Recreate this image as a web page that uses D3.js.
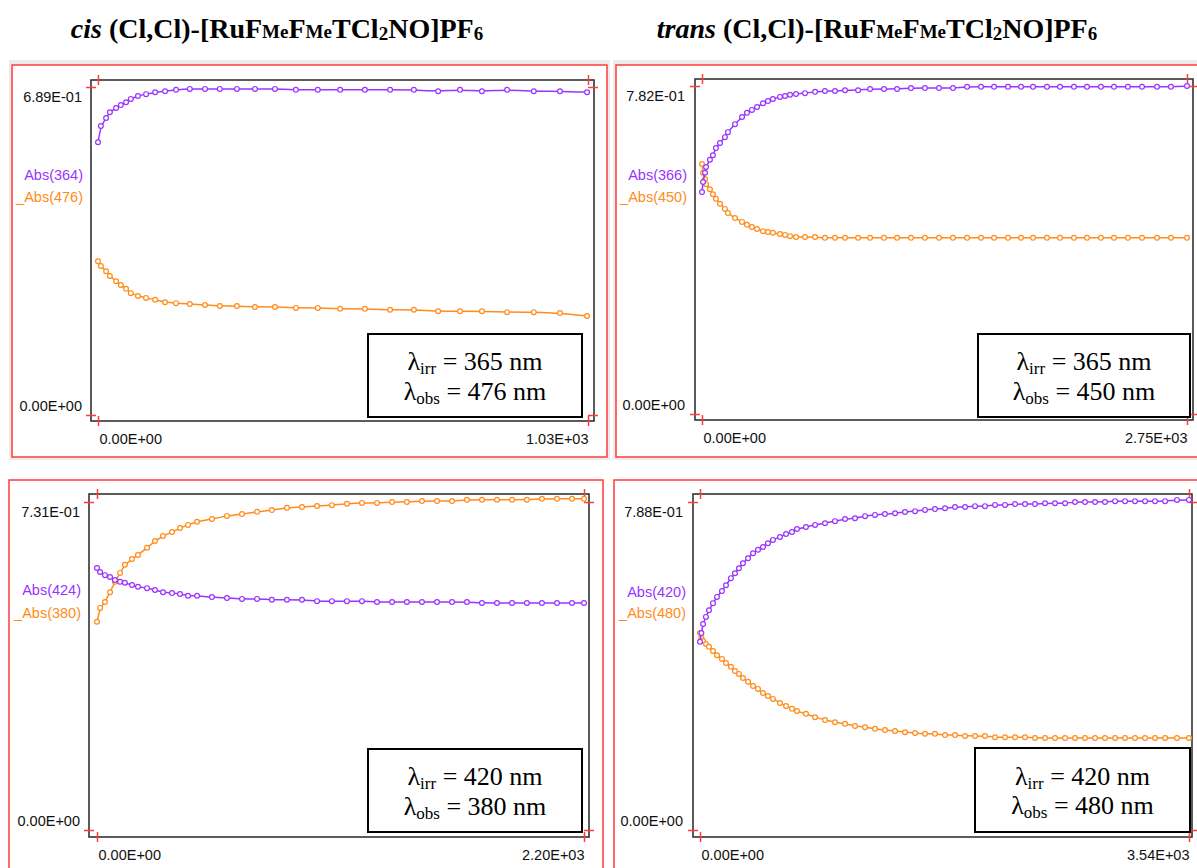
<!DOCTYPE html>
<html><head><meta charset="utf-8">
<script src="https://cdn.jsdelivr.net/npm/d3@7"></script>
<style>body{margin:0;background:#fff}</style>
</head><body><svg id="c" width="1197" height="868"></svg>
<script>
// ---------- DATA ----------
const titlePrefix = ["cis", "trans"];
// Panel 1: cis, irr 365, obs 476
const p1Time = [0,6,17,25,38,48,59,69,84,101,120,141,164,193,225,256,292,330,372,416,462,509,561,614,664,715,761,807,860,916,971,1028];
const p1Abs364 = [0.573,0.607,0.624,0.636,0.645,0.651,0.657,0.664,0.670,0.674,0.678,0.680,0.683,0.685,0.685,0.685,0.685,0.685,0.685,0.683,0.683,0.683,0.683,0.683,0.683,0.680,0.683,0.680,0.683,0.680,0.680,0.678];
const p1Abs476 = [0.323,0.313,0.302,0.292,0.281,0.273,0.265,0.256,0.250,0.246,0.242,0.237,0.235,0.233,0.231,0.229,0.229,0.227,0.227,0.225,0.225,0.223,0.223,0.221,0.221,0.218,0.218,0.218,0.216,0.216,0.214,0.208];
const p1XTicks = ["0.00E+00","1.03E+03"], p1YTicks = ["0.00E+00","6.89E-01"];
const p1Max = [1030, 0.689];
// Panel 2: trans, irr 365, obs 450
const p2Time = [0,6,17,23,45,62,79,102,130,147,187,227,255,283,312,346,374,402,442,471,499,533,584,641,697,754,811,885,953,1032,1106,1185,1264,1344,1423,1503,1582,1656,1735,1809,1877,1956,2030,2109,2183,2262,2336,2415,2495,2580,2659,2750];
const p2Abs366 = [0.529,0.553,0.575,0.589,0.606,0.617,0.634,0.646,0.660,0.672,0.691,0.708,0.718,0.725,0.732,0.741,0.746,0.751,0.756,0.758,0.761,0.763,0.765,0.768,0.770,0.770,0.772,0.772,0.775,0.775,0.775,0.777,0.777,0.777,0.777,0.780,0.780,0.780,0.780,0.780,0.780,0.780,0.780,0.780,0.780,0.780,0.780,0.780,0.780,0.780,0.780,0.782];
const p2Abs450 = [0.596,0.575,0.560,0.548,0.536,0.524,0.513,0.501,0.489,0.479,0.467,0.458,0.451,0.446,0.441,0.436,0.434,0.432,0.429,0.427,0.424,0.422,0.422,0.422,0.420,0.420,0.420,0.420,0.420,0.420,0.420,0.420,0.420,0.420,0.420,0.420,0.420,0.420,0.420,0.420,0.420,0.420,0.420,0.420,0.420,0.420,0.420,0.420,0.420,0.420,0.420,0.420];
const p2XTicks = ["0.00E+00","2.75E+03"], p2YTicks = ["0.00E+00","7.82E-01"];
const p2Max = [2750, 0.782];
// Panel 3: cis, irr 420, obs 380
const p3Time = [0,14,36,59,81,104,126,158,185,226,262,298,339,375,411,452,519,587,655,723,790,858,926,994,1061,1129,1197,1265,1333,1400,1468,1536,1604,1671,1739,1807,1875,1942,2010,2078,2146,2200];
const p3Abs424 = [0.584,0.575,0.568,0.564,0.557,0.553,0.551,0.546,0.542,0.539,0.535,0.530,0.528,0.526,0.522,0.522,0.519,0.517,0.515,0.515,0.513,0.513,0.513,0.510,0.510,0.510,0.510,0.508,0.508,0.508,0.508,0.508,0.508,0.508,0.506,0.506,0.506,0.506,0.506,0.506,0.506,0.506];
const p3Abs380 = [0.464,0.495,0.508,0.530,0.553,0.573,0.591,0.604,0.613,0.629,0.644,0.655,0.664,0.673,0.680,0.687,0.693,0.700,0.704,0.709,0.713,0.718,0.720,0.722,0.724,0.727,0.729,0.729,0.731,0.731,0.733,0.733,0.733,0.736,0.736,0.736,0.736,0.736,0.738,0.738,0.738,0.738];
const p3XTicks = ["0.00E+00","2.20E+03"], p3YTicks = ["0.00E+00","7.31E-01"];
const p3Max = [2200, 0.731];
// Panel 4: trans, irr 420, obs 480
const p4Time = [0,10,22,43,65,94,123,159,188,224,253,282,311,348,384,420,456,492,528,579,623,666,702,767,833,905,977,1050,1122,1195,1267,1339,1412,1484,1557,1629,1701,1774,1846,1919,1991,2063,2136,2208,2281,2353,2425,2498,2570,2643,2715,2787,2860,2932,3005,3077,3149,3222,3294,3367,3453,3540];
const p4Abs420 = [0.452,0.473,0.495,0.512,0.528,0.545,0.560,0.574,0.588,0.605,0.617,0.629,0.641,0.653,0.665,0.673,0.680,0.689,0.697,0.704,0.711,0.716,0.723,0.728,0.733,0.737,0.742,0.747,0.749,0.754,0.757,0.759,0.761,0.764,0.766,0.769,0.771,0.773,0.776,0.776,0.778,0.778,0.781,0.781,0.783,0.783,0.783,0.785,0.785,0.785,0.788,0.788,0.788,0.788,0.790,0.790,0.790,0.790,0.790,0.790,0.793,0.793];
const p4Abs480 = [0.473,0.461,0.454,0.447,0.440,0.430,0.420,0.411,0.401,0.392,0.382,0.375,0.365,0.356,0.346,0.339,0.329,0.322,0.315,0.305,0.298,0.291,0.286,0.279,0.271,0.264,0.259,0.255,0.250,0.247,0.243,0.240,0.238,0.235,0.233,0.231,0.231,0.228,0.228,0.226,0.226,0.226,0.223,0.223,0.223,0.223,0.221,0.221,0.221,0.221,0.221,0.221,0.221,0.221,0.221,0.221,0.221,0.221,0.221,0.221,0.221,0.221];
const p4XTicks = ["0.00E+00","3.54E+03"], p4YTicks = ["0.00E+00","7.88E-01"];
const p4Max = [3540, 0.788];

const PURPLE = "#9933ff", ORANGE = "#ff8c1a", RED = "#ff3b3b";

// ---------- LAYOUT ----------
const panels = [
  {frame:[12,65,595,392], box:[91,80,503,341], xr:[98,588], yr:[415,87], max:p1Max,
   t:p1Time, a:p1Abs364, b:p1Abs476, xt:p1XTicks, yt:p1YTicks, la:"Abs(364)", lb:"_Abs(476)",
   legX:83, legY:[175,197], yLabX:82, note:[368,334,214,83], irr:"365", obs:"476", band:true},
  {frame:[616,65,600,392], box:[695,79,498,341], xr:[702,1187], yr:[414,86], max:p2Max,
   t:p2Time, a:p2Abs366, b:p2Abs450, xt:p2XTicks, yt:p2YTicks, la:"Abs(366)", lb:"_Abs(450)",
   legX:687, legY:[175,197], yLabX:685, note:[978,334,212,83], irr:"365", obs:"450", band:true},
  {frame:[9,480,594,400], box:[89,494,500,343], xr:[97,584], yr:[830,502], max:p3Max,
   t:p3Time, a:p3Abs424, b:p3Abs380, xt:p3XTicks, yt:p3YTicks, la:"Abs(424)", lb:"_Abs(380)",
   legX:81, legY:[590,613], yLabX:80, note:[368,749,214,83], irr:"420", obs:"380", band:false},
  {frame:[614,480,600,400], box:[693,494,499,343], xr:[700,1189], yr:[830,502], max:p4Max,
   t:p4Time, a:p4Abs420, b:p4Abs480, xt:p4XTicks, yt:p4YTicks, la:"Abs(420)", lb:"_Abs(480)",
   legX:686, legY:[592,613], yLabX:683, note:[975,748,215,84], irr:"420", obs:"480", band:false}
];

const svg = d3.select("#c");
svg.append("rect").attr("width",1197).attr("height",868).attr("fill","#fff");

// titles
function title(cx, pre){
  const t = svg.append("text").attr("x",cx).attr("y",38).attr("text-anchor","middle")
    .attr("font-family","'Liberation Serif','Times New Roman',serif").attr("font-weight","bold").attr("font-size",28);
  t.append("tspan").attr("font-style","italic").text(pre);
  t.append("tspan").text(" (Cl,Cl)-[RuF");
  t.append("tspan").attr("font-size",19).text("Me");
  t.append("tspan").text("F");
  t.append("tspan").attr("font-size",19).text("Me");
  t.append("tspan").text("TCl");
  t.append("tspan").attr("font-size",19).attr("dy",2).text("2");
  t.append("tspan").attr("dy",-2).text("NO]PF");
  t.append("tspan").attr("font-size",19).attr("dy",2).text("6");
}
title(277, titlePrefix[0]);
title(877, titlePrefix[1]);

const sans = "'Liberation Sans',Arial,sans-serif";

panels.forEach(p => {
  const g = svg.append("g");
  // gray band + red frame
  if (p.band) g.append("rect").attr("x",p.frame[0]-3).attr("y",p.frame[1]-5).attr("width",p.frame[2]+6).attr("height",p.frame[3]+8).attr("fill","#ececec");
  g.append("rect").attr("x",p.frame[0]).attr("y",p.frame[1]).attr("width",p.frame[2]).attr("height",p.frame[3])
    .attr("fill","#fff").attr("stroke",RED).attr("stroke-width",1.5);
  // plot box
  g.append("rect").attr("x",p.box[0]).attr("y",p.box[1]).attr("width",p.box[2]).attr("height",p.box[3])
    .attr("fill","#fff").attr("stroke","#333").attr("stroke-width",1.6);

  const xs = d3.scaleLinear().domain([0,p.max[0]]).range(p.xr);
  const ys = d3.scaleLinear().domain([0,p.max[1]]).range(p.yr);
  const bx = p.box[0], by = p.box[1], bb = p.box[1]+p.box[3];

  // left axis (labels)
  const la = g.append("g").attr("transform",`translate(${bx+5},0)`)
    .call(d3.axisLeft(ys).tickValues([0,p.max[1]]).tickSize(10).tickPadding(bx+5-10-p.yLabX).tickFormat((d,i)=>p.yt[i]));
  la.selectAll("text").attr("y", d => d===0 ? -9 : 10);
  // bottom axis
  const ba = g.append("g").attr("transform",`translate(0,${bb-5})`)
    .call(d3.axisBottom(xs).tickValues([0,p.max[0]]).tickSize(10).tickPadding(8).tickFormat((d,i)=>p.xt[i]));
  ba.selectAll("text").attr("text-anchor", d => d===0 ? "start" : "end").attr("x", d => d===0 ? 1 : 0);
  // top and right axes (ticks only)
  const ta = g.append("g").attr("transform",`translate(0,${by+5})`)
    .call(d3.axisTop(xs).tickValues([0,p.max[0]]).tickSize(10).tickFormat(""));
  const ra = g.append("g").attr("transform",`translate(${p.xr[1]},0)`)
    .call(d3.axisRight(ys).tickValues([0,p.max[1]]).tickSize(10).tickFormat(""));
  [la,ba,ta,ra].forEach(a => {
    a.select(".domain").remove();
    a.selectAll("line").attr("stroke",RED).attr("stroke-width",1.5);
    a.selectAll("text").attr("font-family",sans).attr("font-size",14.5).attr("fill","#111");
  });

  // legend labels
  g.append("text").attr("x",p.legX).attr("y",p.legY[0]).attr("dy","0.35em").attr("text-anchor","end")
    .attr("font-family",sans).attr("font-size",14.5).attr("fill",PURPLE).text(p.la);
  g.append("text").attr("x",p.legX).attr("y",p.legY[1]).attr("dy","0.35em").attr("text-anchor","end")
    .attr("font-family",sans).attr("font-size",14.5).attr("fill",ORANGE).text(p.lb);

  // series
  const series = [{v:p.b, c:ORANGE},{v:p.a, c:PURPLE}];
  series.forEach(s => {
    const pts = p.t.map((t,i)=>[t, s.v[i]]);
    const line = d3.line().x(d=>xs(d[0])).y(d=>ys(d[1])).curve(d3.curveBasis);
    g.append("path").attr("d", line(pts)).attr("fill","none").attr("stroke",s.c).attr("stroke-width",1.5);
    g.selectAll(null).data(pts).enter().append("circle")
      .attr("cx",d=>xs(d[0])).attr("cy",d=>ys(d[1])).attr("r",2.4)
      .attr("fill","#fff").attr("stroke",s.c).attr("stroke-width",1.2);
  });

  // annotation box
  const n = p.note;
  g.append("rect").attr("x",n[0]).attr("y",n[1]).attr("width",n[2]).attr("height",n[3])
    .attr("fill","#fff").attr("stroke","#000").attr("stroke-width",2);
  const cx = n[0]+n[2]/2, cy = n[1]+n[3]/2;
  const serif = "'Liberation Serif','Times New Roman',serif";
  [["irr",p.irr,-14.5],["obs",p.obs,15]].forEach(([sub,val,off]) => {
    const t = g.append("text").attr("x",cx).attr("y",cy+off+9).attr("text-anchor","middle")
      .attr("font-family",serif).attr("font-size",26).attr("fill","#000");
    t.append("tspan").text("λ");
    t.append("tspan").attr("font-size",17).attr("dy",4).text(sub);
    t.append("tspan").attr("dy",-4).text(` = ${val} nm`);
  });
});
</script></body></html>
